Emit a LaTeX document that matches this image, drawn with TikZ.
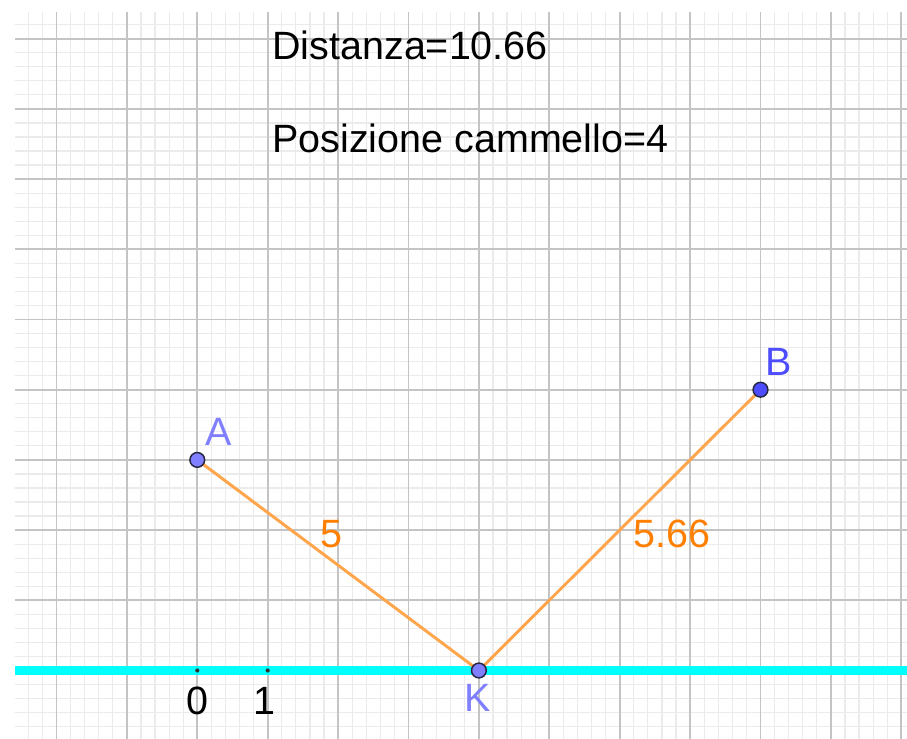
\documentclass[tikz,border=0pt]{standalone}
\usepackage{fontspec}
\setmainfont{Liberation Sans}
\definecolor{gridmajor}{HTML}{C4C4C4}
\definecolor{gridminor}{HTML}{EBEBEB}
\definecolor{axiscyan}{HTML}{00FFFF}
\definecolor{segorange}{HTML}{FFA64D}
\definecolor{laborange}{HTML}{FF8000}
\definecolor{ptlight}{HTML}{7F7FFF}
\definecolor{ptdark}{HTML}{4D4DFF}
\definecolor{ptline}{HTML}{262640}
\begin{document}
\begin{tikzpicture}[x=1.00285cm,y=1cm,
  minorline/.style={gridminor,line width=0.5pt},
  majorline/.style={gridmajor,line width=0.8pt},
  axisline/.style={axiscyan,line width=3.6pt},
  segline/.style={segorange,line width=1.2pt},
  ptnode/.style={circle,draw=ptline,line width=0.6pt,inner sep=0pt,minimum size=0.21cm},
  tickdot/.style={circle,fill=black!80,inner sep=0pt,minimum size=0.06cm},
  lbl/.style={inner sep=0pt,anchor=base west,font=\fontsize{16}{19}\selectfont},
  lblc/.style={inner sep=0pt,anchor=base,font=\fontsize{16}{19}\selectfont}]
\useasboundingbox (-2.8026,-0.9758) rectangle (10.0810,9.5513);
\fill[white] (-2.8026,-0.9758) rectangle (10.0810,9.5513);
\begin{scope}
\clip (-2.589,-0.9758) rectangle (10.0810,9.380);
\foreach \i in {-13,...,51} \draw[minorline] (\i*0.2,-1.2) -- (\i*0.2,9.6);
\foreach \j in {-5,...,48} \draw[minorline] (-3,\j*0.2) -- (10.3,\j*0.2);
\foreach \i in {-2,...,10} \draw[majorline] (\i,-1.2) -- (\i,9.6);
\foreach \j in {0,...,9} \draw[majorline] (-3,\j) -- (10.3,\j);
\end{scope}
\coordinate (axL) at (-2.589,0);
\coordinate (axR) at (10.081,0);
\draw[axisline] (axL) -- (axR);
\node[tickdot] (t0) at (0,0) {};
\node[tickdot] (t1) at (1,0) {};
\coordinate (pA) at (0,3);
\coordinate (pK) at (4,0);
\coordinate (pB) at (8,4);
\draw[segline] (pA) -- (pK) -- (pB);
\node[ptnode,fill=ptlight] (A) at (pA) {};
\node[ptnode,fill=ptlight] (K) at (pK) {};
\node[ptnode,fill=ptdark] (B) at (pB) {};
\node[lbl,text=ptlight] (labA) at (0.11,3.198) {A};
\node[lbl,text=ptdark] (labB) at (8.06,4.209) {B};
\node[lbl,text=ptlight] (labK) at (3.79,-0.577) {K};
\node[lblc] (lab0) at (0,-0.62) {0};
\node[lblc] (lab1) at (0.96,-0.62) {1};
\node[lbl,text=laborange] (len1) at (1.742,1.759) {5};
\node[lbl,text=laborange] (len2) at (6.19,1.759) {5.66};
\node[lbl] (dist) at (1.06,8.697) {Distanza=10.66};
\node[lbl] (pos) at (1.06,7.372) {Posizione cammello=4};
\end{tikzpicture}
\end{document}
